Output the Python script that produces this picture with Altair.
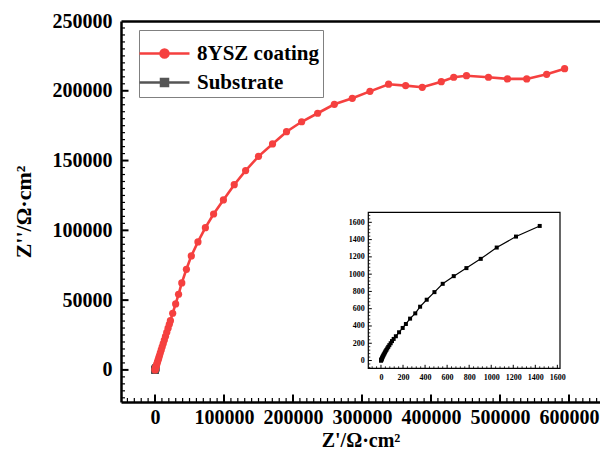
import altair as alt
import pandas as pd

# ---------------- data ----------------
coat_x = [0, 200, 500, 900, 1400, 2000, 2700, 3500, 4400, 5400, 6500, 7700, 9000, 10400,
          11900, 13500, 15200, 17000, 18900, 20700, 22300, 25600, 29900, 34100, 38800,
          45500, 52600, 62200, 73000, 84900, 99100, 114800, 131300, 150000, 170300,
          190600, 212500, 235700, 259900, 285900, 311500, 338500, 363200, 387300,
          414900, 432900, 451400, 483200, 510700, 538700, 567600, 593600]
coat_y = [0, 350, 850, 1500, 2300, 3200, 4300, 5600, 7000, 8600, 10300, 12200, 14300, 16500,
          18900, 21400, 24100, 26900, 29900, 32700, 35300, 40600, 47300, 54200, 62300,
          72100, 81700, 91700, 101900, 111700, 121800, 132700, 142800, 153000, 161900,
          170700, 177800, 183900, 190300, 194600, 199600, 204700, 203700, 202500,
          206500, 209700, 210800, 209700, 208500, 208500, 211800, 215800]

sub_x = [0, 1, 2, 4, 6, 9, 12, 16, 20, 25, 30, 36, 42, 49, 57, 66, 76, 88, 100, 115, 135,
         164, 197, 226, 264, 311, 355, 415, 485, 560, 660, 775, 905, 1050, 1225, 1440]
sub_y = [0, 1, 5, 11, 18, 26, 35, 45, 56, 68, 80, 94, 108, 123, 140, 158, 178, 200, 225,
         250, 281, 327, 377, 423, 485, 546, 623, 704, 792, 888, 977, 1070, 1177, 1308,
         1435, 1558]

series_names = ["8YSZ coating", "Substrate"]
series_colors = ["#F5403F", "#555555"]

main_x_labels = [0, 100000, 200000, 300000, 400000, 500000, 600000]
main_y_labels = [0, 50000, 100000, 150000, 200000, 250000]
inset_labels = [0, 200, 400, 600, 800, 1000, 1200, 1400, 1600]

main_x_ticks = list(range(-40000, 640001, 10000))
main_y_ticks = list(range(-20000, 245001, 5000))
inset_x_ticks = list(range(-80, 1621, 40))
inset_y_ticks = list(range(-80, 1701, 40))

# ---------------- layout ----------------
FONT = "Liberation Serif"
W, H = 479, 381
XD = [-49300, 644900]
YD = [-23000, 250000]
IXD = [-115, 1624]
IXR = [247.3, 439.0]
IYD = [-90, 1716]
IYR = [347.3, 191.3]

LINE_CIRCLE = "M-2.5,0H2.5M-0.4,0A0.4,0.4,0,1,1,0.4,0A0.4,0.4,0,1,1,-0.4,0Z"
LINE_SQUARE = "M-2.5,0H2.5M-0.35,-0.35H0.35V0.35H-0.35Z"

coat = pd.DataFrame({"x": coat_x, "y": coat_y, "i": list(range(len(coat_x)))})
coat["series"] = series_names[0]
sub = pd.DataFrame({"x": sub_x, "y": sub_y, "i": list(range(len(sub_x)))})
sub["series"] = series_names[1]
legend_rows = pd.concat([coat.iloc[:1], sub.iloc[:1]], ignore_index=True)

# data units per pixel (to give inward ticks a length in pixels)
ux = (XD[1] - XD[0]) / W
uy = (YD[1] - YD[0]) / H
iux = (IXD[1] - IXD[0]) / (IXR[1] - IXR[0])
iuy = (IYD[1] - IYD[0]) / (IYR[0] - IYR[1])


def tick_frame(values, step, base, unit, big, small, wbig, wsmall):
    rows = []
    for v in values:
        major = v % step == 0
        rows.append({"v": float(v), "a": float(base),
                     "b": float(base + unit * (big if major else small)),
                     "w": float(wbig if major else wsmall)})
    return pd.DataFrame(rows)


mx_ticks = tick_frame(main_x_ticks, 100000, YD[0], uy, 7.5, 4, 2, 1.2)
my_ticks = tick_frame(main_y_ticks, 50000, XD[0], ux, 7.5, 4, 2, 1.2)
ix_ticks = tick_frame(inset_x_ticks, 200, IYD[0], iuy, 3.5, 2, 1, 0.8)
iy_ticks = tick_frame(inset_y_ticks, 200, IXD[0], iux, 3.5, 2, 1, 0.8)


def mxs():
    return alt.Scale(domain=XD, nice=False, zero=False)


def mys():
    return alt.Scale(domain=YD, nice=False, zero=False)


def ixs():
    return alt.Scale(domain=IXD, range=IXR, nice=False, zero=False)


def iys():
    return alt.Scale(domain=IYD, range=IYR, nice=False, zero=False)


# main axes
x_label_axis = alt.Axis(orient="bottom", values=main_x_labels, format="d", ticks=False, tickSize=0,
                        grid=False, domainColor="black", domainWidth=2.5,
                        labelFont=FONT, labelFontWeight="bold", labelFontSize=20, labelColor="#000000",
                        labelPadding=5, labelFlush=False, labelOverlap=False,
                        title="Z'/Ω·cm²", titleFont=FONT, titleFontWeight="bold", titleFontSize=20,
                        titleColor="#000000", titlePadding=3)
y_label_axis = alt.Axis(orient="left", values=main_y_labels, format="d", ticks=False, tickSize=0,
                        grid=False, domainColor="black", domainWidth=2.5,
                        labelFont=FONT, labelFontWeight="bold", labelFontSize=20, labelColor="#000000",
                        labelPadding=9, labelFlush=False, labelOverlap=False,
                        title="Z''/Ω·cm²", titleFont=FONT, titleFontWeight="bold", titleFontSize=22,
                        titleColor="#000000", titlePadding=17)
top_frame_axis = alt.Axis(orient="top", ticks=False, labels=False, grid=False, title=None,
                          domainColor="black", domainWidth=2.5)

# inset axes
ix_label_axis = alt.Axis(orient="bottom", offset=IYR[0] - H, values=inset_labels, format="d",
                         ticks=False, tickSize=0, grid=False, domain=False,
                         labelFont=FONT, labelFontWeight="bold", labelFontSize=8, labelColor="#000000",
                         labelPadding=5, labelFlush=False, labelOverlap=False, title=None)
iy_label_axis = alt.Axis(orient="left", offset=-IXR[0], values=inset_labels, format="d",
                         ticks=False, tickSize=0, grid=False, domain=False,
                         labelFont=FONT, labelFontWeight="bold", labelFontSize=8, labelColor="#000000",
                         labelPadding=4, labelFlush=False, labelOverlap=False, title=None)

legend = alt.Legend(orient="none", legendX=18, legendY=9, title=" ", titleFontSize=8, titlePadding=0,
                    direction="vertical",
                    labelFont=FONT, labelFontWeight="bold", labelFontSize=21, labelColor="#000000",
                    strokeColor="#808080", fillColor="white", padding=4, rowPadding=7,
                    symbolSize=400, symbolStrokeWidth=2.5, symbolOffset=10, labelOffset=21)

# ---------------- layers ----------------
sub_main_line = alt.Chart(sub).mark_line(color=series_colors[1], strokeWidth=2).encode(
    x=alt.X("x:Q", scale=mxs(), axis=top_frame_axis),
    y=alt.Y("y:Q", scale=mys(), axis=None),
    order="i:Q")
sub_main_pts = alt.Chart(sub).mark_point(shape="square", filled=True, size=49, opacity=1,
                                         color=series_colors[1]).encode(
    x=alt.X("x:Q", scale=mxs(), axis=None),
    y=alt.Y("y:Q", scale=mys(), axis=None))
coat_line = alt.Chart(coat).mark_line(color=series_colors[0], strokeWidth=2.6).encode(
    x=alt.X("x:Q", scale=mxs(), axis=x_label_axis),
    y=alt.Y("y:Q", scale=mys(), axis=y_label_axis),
    order="i:Q")
coat_pts = alt.Chart(coat).mark_point(shape="circle", filled=True, size=52, opacity=1,
                                      color=series_colors[0]).encode(
    x=alt.X("x:Q", scale=mxs(), axis=None),
    y=alt.Y("y:Q", scale=mys(), axis=None))
legend_layer = alt.Chart(legend_rows).mark_point(filled=True, size=0, strokeWidth=2.5, opacity=1).encode(
    x=alt.X("x:Q", scale=mxs(), axis=None),
    y=alt.Y("y:Q", scale=mys(), axis=None),
    fill=alt.Fill("series:N", scale=alt.Scale(domain=series_names, range=series_colors), legend=legend),
    stroke=alt.Stroke("series:N", scale=alt.Scale(domain=series_names, range=series_colors), legend=legend),
    shape=alt.Shape("series:N", scale=alt.Scale(domain=series_names, range=[LINE_CIRCLE, LINE_SQUARE]),
                    legend=legend))

# inward tick marks, placed through the scales
main_xtick_layer = alt.Chart(mx_ticks).mark_rule(color="black").encode(
    x=alt.X("v:Q", scale=mxs(), axis=None),
    y=alt.Y("a:Q", scale=mys(), axis=None), y2="b:Q",
    strokeWidth=alt.StrokeWidth("w:Q", scale=None))
main_ytick_layer = alt.Chart(my_ticks).mark_rule(color="black").encode(
    y=alt.Y("v:Q", scale=mys(), axis=None),
    x=alt.X("a:Q", scale=mxs(), axis=None), x2="b:Q",
    strokeWidth=alt.StrokeWidth("w:Q", scale=None))

inset_frame = alt.Chart(legend_rows.iloc[:1]).mark_rect(filled=False, stroke="black", strokeWidth=1.2,
                                                        fill="white").encode(
    x=alt.XDatum(IXD[0], scale=ixs(), axis=None),
    x2=alt.X2Datum(IXD[1]),
    y=alt.YDatum(IYD[0], scale=iys(), axis=None),
    y2=alt.Y2Datum(IYD[1]))
inset_xtick_layer = alt.Chart(ix_ticks).mark_rule(color="black").encode(
    x=alt.X("v:Q", scale=ixs(), axis=None),
    y=alt.Y("a:Q", scale=iys(), axis=None), y2="b:Q",
    strokeWidth=alt.StrokeWidth("w:Q", scale=None))
inset_ytick_layer = alt.Chart(iy_ticks).mark_rule(color="black").encode(
    y=alt.Y("v:Q", scale=iys(), axis=None),
    x=alt.X("a:Q", scale=ixs(), axis=None), x2="b:Q",
    strokeWidth=alt.StrokeWidth("w:Q", scale=None))
inset_line = alt.Chart(sub).mark_line(color="black", strokeWidth=1.2).encode(
    x=alt.X("x:Q", scale=ixs(), axis=ix_label_axis),
    y=alt.Y("y:Q", scale=iys(), axis=iy_label_axis),
    order="i:Q")
inset_pts = alt.Chart(sub).mark_point(shape="square", filled=True, size=16, opacity=1, color="black").encode(
    x=alt.X("x:Q", scale=ixs(), axis=None),
    y=alt.Y("y:Q", scale=iys(), axis=None))

chart = alt.layer(
    main_xtick_layer, main_ytick_layer,
    sub_main_line, sub_main_pts, coat_line, coat_pts, legend_layer,
    inset_frame, inset_xtick_layer, inset_ytick_layer, inset_line, inset_pts
).resolve_scale(
    x="independent", y="independent"
).resolve_axis(
    x="independent", y="independent"
).properties(
    width=W, height=H,
    autosize=alt.AutoSizeParams(type="none"),
    padding={"left": 113, "top": 13, "right": 0, "bottom": 50},
    background="white"
).configure_view(stroke=None)

chart.save("out.html", embed_options={"renderer": "svg", "actions": False})
